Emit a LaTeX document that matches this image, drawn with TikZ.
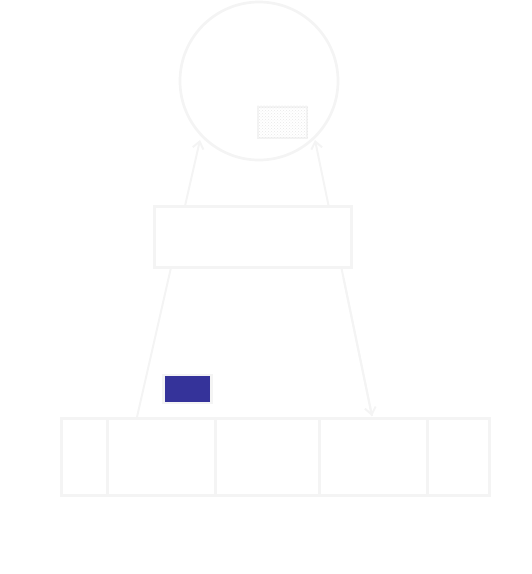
\documentclass[tikz,border=0pt]{standalone}
\usetikzlibrary{arrows.meta,patterns,calc}
\definecolor{faint}{HTML}{F4F4F4}
\definecolor{hatch}{HTML}{E9E9E9}
\definecolor{navy}{HTML}{35339A}
\begin{document}
\begin{tikzpicture}[x=1pt,y=-1pt,
  faintline/.style={draw=faint,line width=2.7pt},
  cell/.style={faintline,fill=white,minimum height=77pt,inner sep=0pt,anchor=north west},
  tip/.style={-{Straight Barb[length=7pt,width=11pt,line width=2pt]}}]
\useasboundingbox (0,0) rectangle (532,574);
% circle
\node[faintline,circle,minimum size=158pt,inner sep=0pt] (circ) at (259,81) {};
\node[faintline,line width=2pt,fill=white,minimum width=49pt,minimum height=31pt,inner sep=0pt] (hatchbox) at (282.5,122) {};
\fill[pattern=crosshatch dots,pattern color=hatch] (hatchbox.north west) rectangle (hatchbox.south east);
% bottom cells
\node[cell,minimum width=46pt] (c1) at (60,417) {};
\node[cell,minimum width=108pt] (c2) at (106,417) {};
\node[cell,minimum width=104pt] (c3) at (214,417) {};
\node[cell,minimum width=108pt] (c4) at (318,417) {};
\node[cell,minimum width=62pt] (c5) at (426,417) {};
\coordinate (la) at (137,417);
\coordinate (lb) at (200,140);
\coordinate (ra) at (372,416);
\coordinate (rb) at (315,140);
% connectors
\draw[faintline,line width=2pt,tip] (la) -- (lb);
\draw[faintline,line width=2pt,tip] (ra) -- (rb);
\draw[faintline,line width=2pt,tip] ($(ra)!0.5!(rb)$) -- (ra);
% middle box
\node[faintline,fill=white,minimum width=197pt,minimum height=61pt,inner sep=0pt] (mid) at (253,237) {};
% blue box
\node[draw=faint,line width=2.7pt,fill=navy,minimum width=48pt,minimum height=28pt,inner sep=0pt] (blue) at (187.5,389) {};
\end{tikzpicture}
\end{document}
